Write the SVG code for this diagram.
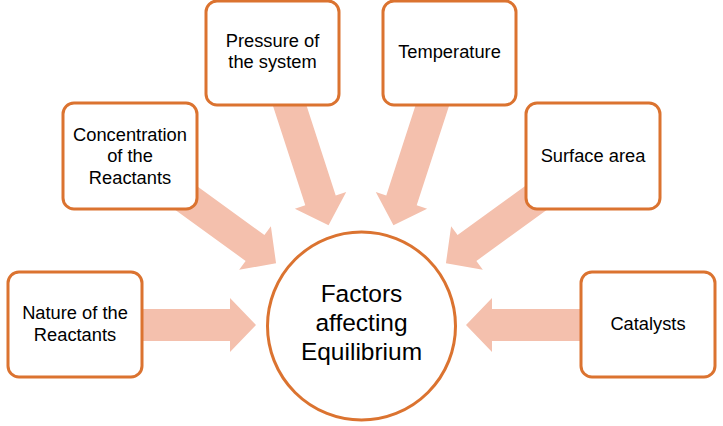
<svg xmlns="http://www.w3.org/2000/svg" width="723" height="426" viewBox="0 0 723 426">
<defs>
<style>
.box{fill:#fff;stroke:#DB7330;stroke-width:3}
.arrow{fill:#F4C0AD}
.t{font-family:"Liberation Sans",Arial,sans-serif;font-size:18.3px;fill:#000;text-anchor:middle}
.c{font-family:"Liberation Sans",Arial,sans-serif;font-size:24.5px;fill:#000;text-anchor:middle}
</style>
<path id="arr" d="M105,0 L131,-27 L131,-16 L240,-16 L240,16 L131,16 L131,27 Z"/>
</defs>
<rect width="723" height="426" fill="#fff"/>
<g id="connectors">
<use href="#arr" class="arrow" transform="translate(361 325) rotate(180)"/>
<use href="#arr" class="arrow" transform="translate(361 325) rotate(216)"/>
<use href="#arr" class="arrow" transform="translate(361 325) rotate(252)"/>
<use href="#arr" class="arrow" transform="translate(361 325) rotate(288)"/>
<use href="#arr" class="arrow" transform="translate(361 325) rotate(324)"/>
<use href="#arr" class="arrow" transform="translate(361 325) rotate(0)"/>
</g>
<g id="center">
<circle class="box" cx="361.5" cy="326" r="94"/>
<text class="c" x="361.5" y="302">Factors</text>
<text class="c" x="361.5" y="331">affecting</text>
<text class="c" x="361.5" y="360">Equilibrium</text>
</g>
<g id="nature">
<rect class="box" x="8" y="272" width="134" height="105" rx="11"/>
<text class="t" x="75" y="319">Nature of the</text>
<text class="t" x="75" y="341">Reactants</text>
</g>
<g id="concentration">
<rect class="box" x="63" y="103" width="134" height="106" rx="11"/>
<text class="t" x="130" y="140.5">Concentration</text>
<text class="t" x="130" y="162">of the</text>
<text class="t" x="130" y="183.5">Reactants</text>
</g>
<g id="pressure">
<rect class="box" x="206" y="1" width="133" height="104" rx="11"/>
<text class="t" x="272.5" y="46.5">Pressure of</text>
<text class="t" x="272.5" y="68">the system</text>
</g>
<g id="temperature">
<rect class="box" x="383" y="1" width="133" height="104" rx="11"/>
<text class="t" x="449.5" y="58">Temperature</text>
</g>
<g id="surface">
<rect class="box" x="526" y="103" width="134" height="106" rx="11"/>
<text class="t" x="593" y="161.5">Surface area</text>
</g>
<g id="catalysts">
<rect class="box" x="581" y="272" width="134" height="105" rx="11"/>
<text class="t" x="648" y="329.5">Catalysts</text>
</g>
</svg>
